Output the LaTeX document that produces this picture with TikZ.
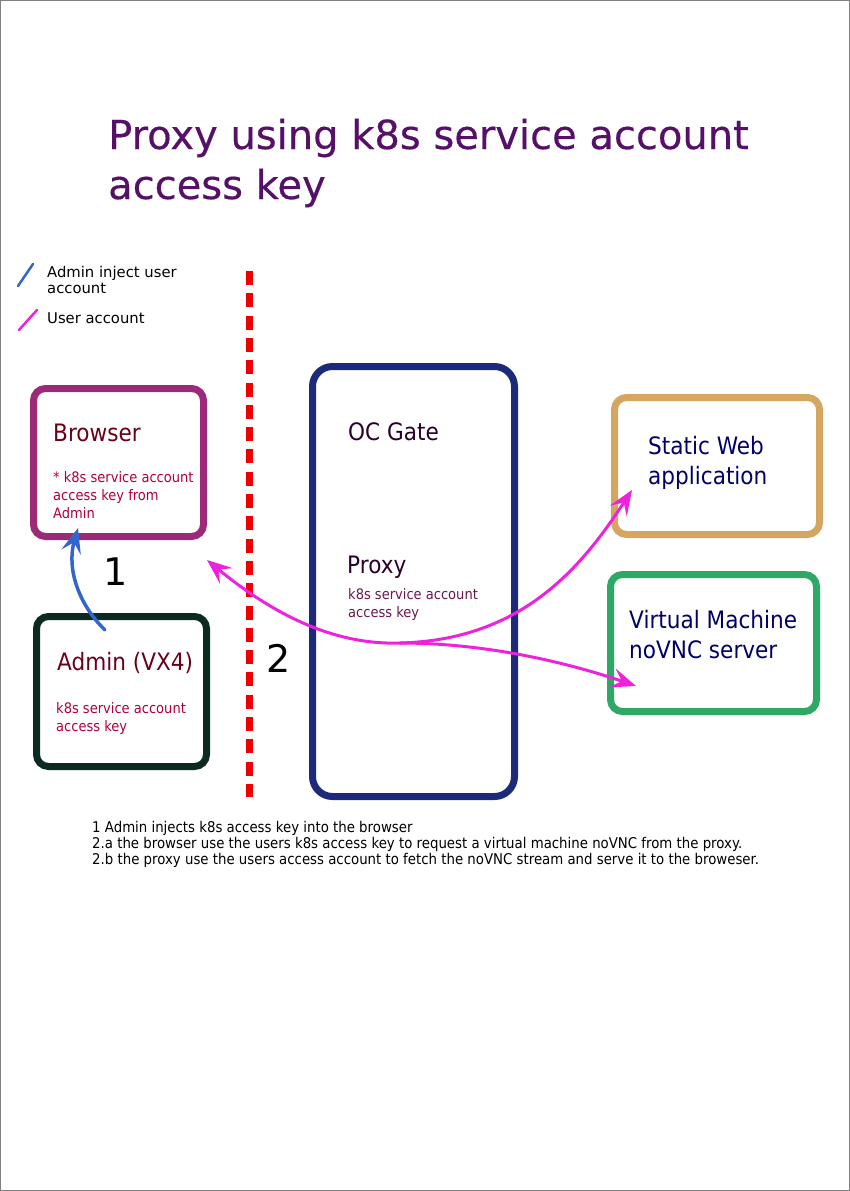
\documentclass[tikz,border=0pt]{standalone}
\usepackage{fontspec}
\setmainfont{DejaVu Sans}
\newfontfamily\condfont[FakeStretch=0.9]{DejaVu Sans}
\newfontfamily\titlefont[FakeBold=0.4]{DejaVu Sans}
\usetikzlibrary{arrows.meta, positioning}

\definecolor{browsercol}{HTML}{9C2A78}
\definecolor{admincol}{HTML}{0B2A22}
\definecolor{gatecol}{HTML}{1B2A7A}
\definecolor{staticcol}{HTML}{D4A662}
\definecolor{vmcol}{HTML}{2EA865}
\definecolor{dashcol}{HTML}{EE0000}
\definecolor{injectcol}{HTML}{3366CC}
\definecolor{usercol}{HTML}{EE22DD}
\definecolor{titlecol}{HTML}{561068}
\definecolor{maroontxt}{HTML}{6A0018}
\definecolor{crimsontxt}{HTML}{B0003A}
\definecolor{gatetxt}{HTML}{2A0028}
\definecolor{proxytxt}{HTML}{6A1850}
\definecolor{navytxt}{HTML}{000066}

\begin{document}
\begin{tikzpicture}[
        x=1pt, y=-1pt,
        box/.style={draw=#1, line width=7pt, rounded corners=12pt, inner sep=0pt},
        head/.style={anchor=base west, inner sep=0pt, align=left,
            font=\condfont\fontsize{24}{29.5}\selectfont},
        small/.style={anchor=base west, inner sep=0pt, align=left,
            font=\condfont\fontsize{14.5}{18}\selectfont},
        tip/.style={-{Stealth[length=25pt, width=20pt, inset=10pt]}},
        inject/.style={injectcol, line width=3.5pt, line cap=round},
        useracc/.style={usercol, line width=3pt, line cap=round}
    ]
        % page and frame
        \useasboundingbox (0,0) rectangle (850,1191);
        \draw[gray, line width=1pt] (0.5,0.5) rectangle (849.5,1190.5);

        % title (anchor sits on the last line)
        \node[anchor=base west, inner sep=0pt, align=left, text=titlecol,
            font=\titlefont\fontsize{40}{50}\selectfont] (title) at (108,199)
            {Proxy using k8s service account\\access key};

        % legend
        \draw[inject, line width=2.5pt] (18,286) -- (33,264);
        \node[anchor=base west, inner sep=0pt, align=left,
            font=\fontsize{14.8}{16}\selectfont] (legendinject) at (47,293)
            {Admin inject user\\account};
        \draw[useracc, line width=2.5pt] (19,330) -- (37,310);
        \node[anchor=base west, inner sep=0pt,
            font=\fontsize{14.8}{16}\selectfont] (legenduser) at (47,323)
            {User account};

        % boundary
        \draw[dashcol, line width=7pt, dash pattern=on 14pt off 8.3pt]
            (249,271) -- (249,797);

        % boxes
        \node[box=browsercol, minimum width=170pt, minimum height=148pt]
            (browser) at (118.5,462.5) {};
        \node[box=admincol, minimum width=170pt, minimum height=150pt]
            (admin) at (121.5,691.5) {};
        \node[box=gatecol, rounded corners=20pt, minimum width=202pt,
            minimum height=430pt] (gate) at (413.5,581.5) {};
        \node[box=staticcol, minimum width=205pt, minimum height=137pt]
            (static) at (717,466) {};
        \node[box=vmcol, minimum width=206pt, minimum height=137pt]
            (vm) at (713.5,643) {};

        % box texts
        \node[head, text=maroontxt] (browserhead) at (53,441) {Browser};
        \node[small, text=crimsontxt] (browserkey) at (53,518)
            {* k8s service account\\access key from\\Admin};
        \node[head, text=maroontxt] (adminhead) at (57,670) {Admin (VX4)};
        \node[small, text=crimsontxt] (adminkey) at (56,731)
            {k8s service account\\access key};
        \node[head, text=gatetxt] (gatehead) at (348,440) {OC Gate};
        \node[head, text=gatetxt] (proxyhead) at (347,573) {Proxy};
        \node[small, text=proxytxt] (proxykey) at (348,617)
            {k8s service account\\access key};
        \node[head, text=navytxt] (statichead) at (648,484)
            {Static Web\\application};
        \node[head, text=navytxt] (vmhead) at (629,658)
            {Virtual Machine\\noVNC server};

        % step numbers
        \node[font=\fontsize{38}{40}\selectfont] (stepone) at (116,572) {1};
        \node[font=\fontsize{38}{40}\selectfont] (steptwo) at (279,658) {2};

        % connectors
        \coordinate (injectstart) at (105,630);
        \coordinate (injectend) at (78,528);
        \coordinate (browserend) at (207,560);
        \coordinate (split) at (400,643);
        \coordinate (staticend) at (632,490);
        \coordinate (vmend) at (636,686);

        \draw[inject, tip] (injectstart) .. controls (80,606) and (66,570) .. (injectend);
        \draw[useracc, tip] (split) .. controls (340,645) and (280,620) .. (browserend);
        \draw[useracc, tip] (split) .. controls (520,640) and (580,570) .. (staticend);
        \draw[useracc, tip] (split) .. controls (480,643) and (560,660) .. (vmend);

        % notes
        \node[small, font=\condfont\fontsize{14.8}{16}\selectfont] (notes) at (92,864)
            {1 Admin injects k8s access key into the browser\\
             2.a the browser use the users k8s access key to request a virtual machine noVNC from the proxy.\\
             2.b the proxy use the users access account to fetch the noVNC stream and serve it to the broweser.};
    \end{tikzpicture}
\end{document}
